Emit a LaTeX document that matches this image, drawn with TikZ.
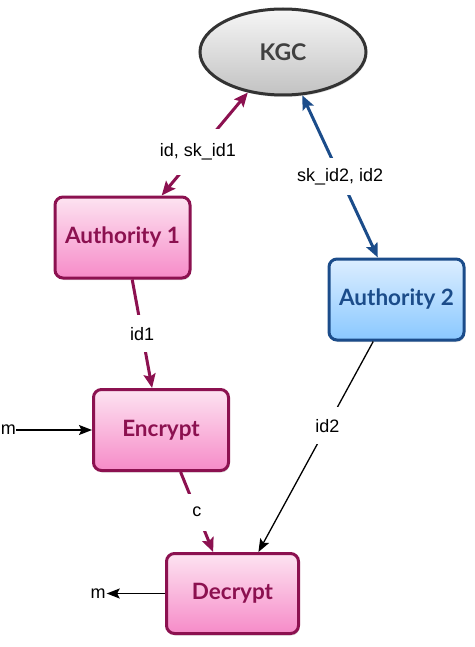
\documentclass[tikz,border=0pt]{standalone}
\usepackage{fontspec}
\setmainfont{Liberation Sans}
\newfontfamily\boxfont{Lato}
\usetikzlibrary{arrows.meta,shapes.geometric,shadows}
\definecolor{keyred}{HTML}{8C1150}
\definecolor{keyblue}{HTML}{1B4C8A}
\definecolor{pinktop}{HTML}{FDE3F1}
\definecolor{pinkbot}{HTML}{F68BC8}
\definecolor{bluetop}{HTML}{DCEEFF}
\definecolor{bluebot}{HTML}{8AC8FF}
\definecolor{graytop}{HTML}{F6F6F6}
\definecolor{graybot}{HTML}{C2C2C2}
\begin{document}
\begin{tikzpicture}[x=1pt,y=-1pt,
  >={Stealth[length=14pt,width=12pt,inset=2.5pt]},
  entity/.style={line width=3pt, rounded corners=8pt, minimum width=135pt,
    minimum height=81pt, font=\boxfont\bfseries\fontsize{22.5}{26}\selectfont,
    drop shadow={opacity=0.25, shadow xshift=1pt, shadow yshift=-2pt}},
  redbox/.style={entity, draw=keyred, top color=pinktop, bottom color=pinkbot, text=keyred},
  bluebox/.style={entity, draw=keyblue, top color=bluetop, bottom color=bluebot, text=keyblue},
  redline/.style={draw=keyred, line width=3pt},
  blueline/.style={draw=keyblue, line width=3pt},
  thinline/.style={draw=black, line width=1.3pt, -{Stealth[length=13pt,width=10pt,inset=2.5pt]}},
  lbl/.style={fill=white, inner sep=1pt, minimum width=30pt, minimum height=37pt,
    font=\fontsize{18}{20}\selectfont}]
  \useasboundingbox (0,0) rectangle (474,647);
  % boxes
  \node[ellipse, draw=black!80, line width=3pt, top color=graytop, bottom color=graybot,
    minimum width=166pt, minimum height=86pt, text=black!75,
    font=\boxfont\bfseries\fontsize{23}{26}\selectfont,
    drop shadow={opacity=0.25, shadow xshift=1pt, shadow yshift=-2pt}] (kgc) at (283,52) {KGC};
  \node[redbox] (auth1) at (122.5,237.5) {Authority 1};
  \node[bluebox] (auth2) at (396.5,299.5) {Authority 2};
  \node[redbox] (enc) at (161,430) {Encrypt};
  \node[redbox, minimum width=132pt, minimum height=80pt] (dec) at (232.5,593.5) {Decrypt};
  \node[font=\fontsize{18}{20}\selectfont, anchor=east, inner sep=0pt] (min) at (16,430) {m};
  \node[font=\fontsize{18}{20}\selectfont, inner sep=1pt] (mout) at (98,593.5) {m};
  % arrows
  \draw[redline,<->] (auth1.47) -- node[lbl,pos=0.42,minimum height=46pt]{id, sk\_id1} (kgc.229);
  \draw[blueline,<->] (kgc.294) -- node[lbl]{sk\_id2, id2} (auth2.114.6);
  \draw[redline,->] (auth1.-77.4) -- node[lbl]{id1} (enc.102);
  \draw[redline,->] (enc.-65.7) -- node[lbl]{c} (dec.115);
  \draw[thinline] (auth2.-119) -- node[lbl,pos=0.4]{id2} (dec.58.4);
  \draw[thinline] (min) -- (enc);
  \draw[thinline] (dec) -- (mout);
\end{tikzpicture}
\end{document}
